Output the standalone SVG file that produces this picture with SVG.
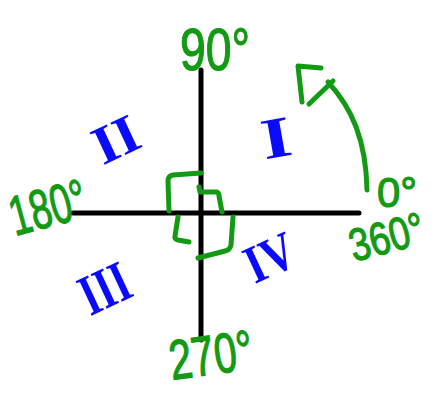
<svg xmlns="http://www.w3.org/2000/svg" width="447" height="394" viewBox="0 0 447 394">
<style>
.ax{stroke:#000;stroke-width:5;fill:none;stroke-linecap:round}
.gr{stroke:#139a13;stroke-width:5;fill:none;stroke-linecap:round;stroke-linejoin:round}
.deg{font-family:"Liberation Sans",Arial,sans-serif;fill:#139a13;stroke:#139a13;stroke-width:1.2}
.rom{font-family:"Liberation Serif","Times New Roman",serif;font-weight:bold;fill:#0a0aff;text-anchor:middle}
</style>
<rect width="447" height="394" fill="#fff"/>
<g id="connectors">
<line class="ax" x1="73" y1="213" x2="359" y2="213"/>
<line class="ax" x1="201" y1="70" x2="201" y2="340"/>
</g>
<g id="right-angle">
<path class="gr" d="M201,173 L173,175 Q168,176 168,181 L169,211"/>
<path class="gr" d="M199,187 L200,192 L217,192 Q219,193 219,196 L222,212"/>
<path class="gr" d="M178,217 L175,236 Q174,239 178,240 L189,242"/>
<path class="gr" d="M233,217 L231,245 Q230,250 225,251 L198,258"/>
</g>
<g id="rotation-arrow">
<path class="gr" d="M367,190 C366,140 352,108 328,82"/>
<path class="gr" d="M321,68 L298,66 L302,102"/>
<path class="gr" d="M333,81 L309,104"/>
</g>
<g id="label-90"><text class="deg" x="180" y="70" font-size="60" textLength="70" lengthAdjust="spacingAndGlyphs">90°</text></g>
<g id="label-180"><text class="deg" transform="rotate(-15 15 236)" x="15" y="236" font-size="56" textLength="78" lengthAdjust="spacingAndGlyphs">180°</text></g>
<g id="label-0"><text class="deg" x="377" y="207" font-size="42" textLength="40" lengthAdjust="spacingAndGlyphs">0°</text></g>
<g id="label-360"><text class="deg" transform="rotate(-15 354 262)" x="354" y="262" font-size="46" textLength="76" lengthAdjust="spacingAndGlyphs">360°</text></g>
<g id="label-270"><text class="deg" transform="rotate(-8 172 380)" x="172" y="380" font-size="56" textLength="84" lengthAdjust="spacingAndGlyphs">270°</text></g>
<g id="quadrant-I"><text class="rom" transform="rotate(-10 277 143)" x="277" y="157" font-size="58" textLength="30" lengthAdjust="spacingAndGlyphs">I</text></g>
<g id="quadrant-II"><text class="rom" transform="rotate(-25 118 144)" x="118" y="157" font-size="54" textLength="46" lengthAdjust="spacingAndGlyphs">II</text></g>
<g id="quadrant-III"><text class="rom" transform="rotate(-25 107 293)" x="107" y="307" font-size="58" textLength="50" lengthAdjust="spacingAndGlyphs">III</text></g>
<g id="quadrant-IV"><text class="rom" transform="rotate(-25 272 262)" x="272" y="275" font-size="54" textLength="50" lengthAdjust="spacingAndGlyphs">IV</text></g>
</svg>
